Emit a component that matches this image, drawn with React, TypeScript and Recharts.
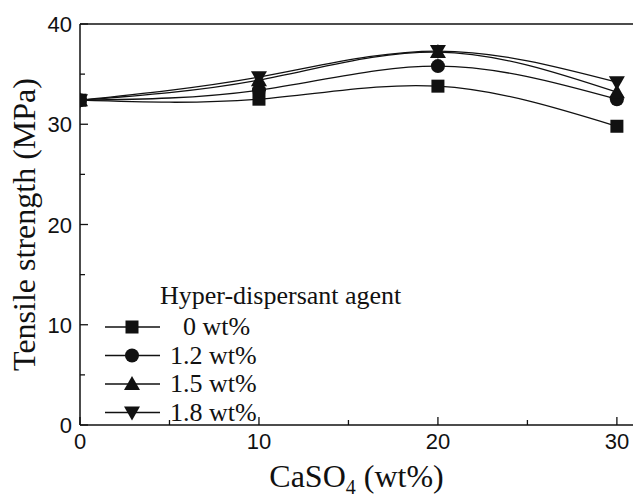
import React from "react";
import {
  LineChart,
  Line,
  XAxis,
  YAxis,
  ReferenceLine,
  Legend,
} from "recharts";

// CaSO4 loading (wt%)
const X_VALUES = [0, 10, 20, 30];
// tensile strength (MPa) per hyper-dispersant level
const S0 = [32.4, 32.5, 33.8, 29.8];
const S12 = [32.4, 33.4, 35.8, 32.5];
const S15 = [32.4, 34.4, 37.2, 33.2];
const S18 = [32.4, 34.7, 37.3, 34.2];

const SERIES = [
  { key: "s0", name: "0 wt%", values: S0, shape: "square" },
  { key: "s12", name: "1.2 wt%", values: S12, shape: "circle" },
  { key: "s15", name: "1.5 wt%", values: S15, shape: "up" },
  { key: "s18", name: "1.8 wt%", values: S18, shape: "down" },
];

const X_TICKS = [0, 5, 10, 15, 20, 25, 30];
const Y_TICKS = [0, 5, 10, 15, 20, 25, 30, 35, 40];

const data = X_VALUES.map((x, i) => {
  const row: any = { x };
  SERIES.forEach((s) => (row[s.key] = s.values[i]));
  return row;
});

const SERIF = "'Liberation Serif', 'Times New Roman', serif";
const SANS = "'Liberation Sans', Arial, sans-serif";

function Marker({ cx, cy, shape }: { cx: number; cy: number; shape: string }) {
  if (shape === "square")
    return <rect x={cx - 6.5} y={cy - 6.5} width={13} height={13} fill="#111" />;
  if (shape === "circle") return <circle cx={cx} cy={cy} r={7} fill="#111" />;
  if (shape === "up")
    return <polygon points={`${cx},${cy - 8} ${cx + 8},${cy + 6} ${cx - 8},${cy + 6}`} fill="#111" />;
  return <polygon points={`${cx},${cy + 8} ${cx + 8},${cy - 6} ${cx - 8},${cy - 6}`} fill="#111" />;
}

function XTick({ x, y, payload }: any) {
  const major = payload.value % 10 === 0;
  return (
    <g>
      <line x1={x} y1={y} x2={x} y2={y - (major ? 8 : 5)} stroke="#111" strokeWidth={1.3} />
      {major && (
        <text x={x} y={y + 24} textAnchor="middle" fontFamily={SANS} fontSize={22} fill="#111">
          {payload.value}
        </text>
      )}
    </g>
  );
}

function YTick({ x, y, payload }: any) {
  const major = payload.value % 10 === 0;
  return (
    <g>
      <line x1={x} y1={y} x2={x + (major ? 8 : 5)} y2={y} stroke="#111" strokeWidth={1.3} />
      {major && (
        <text x={x - 8} y={y + 8} textAnchor="end" fontFamily={SANS} fontSize={22} fill="#111">
          {payload.value}
        </text>
      )}
    </g>
  );
}

function LegendBox() {
  return (
    <svg width={360} height={150}>
      <text x={65} y={26} fontFamily={SERIF} fontSize={26} fill="#111">
        Hyper-dispersant agent
      </text>
      {SERIES.map((s, i) => {
        const y = 49 + i * 28.5;
        return (
          <g key={s.key}>
            <line x1={10} y1={y} x2={65} y2={y} stroke="#111" strokeWidth={1.3} />
            <Marker cx={37} cy={y} shape={s.shape} />
            <text
              x={i === 0 ? 88 : 75}
              y={y + 8}
              fontFamily={SERIF}
              fontSize={26}
              fill="#111"
            >
              {s.name}
            </text>
          </g>
        );
      })}
    </svg>
  );
}

export default function App() {
  return (
    <div style={{ position: "absolute", left: 0, top: 0, background: "#fff" }}>
      <LineChart
        width={633}
        height={500}
        data={data}
        margin={{ top: 24, right: 0, bottom: 0, left: 0 }}
      >
        <XAxis
          dataKey="x"
          type="number"
          domain={[0, 30.9]}
          ticks={X_TICKS}
          allowDataOverflow
          height={75}
          tickSize={0}
          tickMargin={0}
          tickLine={false}
          axisLine={{ stroke: "#111", strokeWidth: 1.5 }}
          tick={<XTick />}
          interval={0}
          label={{
            content: ({ viewBox }: any) => (
              <text
                x={viewBox.x + viewBox.width / 2}
                y={viewBox.y + 62}
                textAnchor="middle"
                fontFamily={SERIF}
                fontSize={32}
                fill="#111"
              >
                CaSO
                <tspan dy={7} fontSize={20}>4</tspan>
                <tspan dy={-7}> (wt%)</tspan>
              </text>
            ),
          }}
        />
        <YAxis
          type="number"
          domain={[0, 40]}
          ticks={Y_TICKS}
          width={80}
          tickSize={0}
          tickMargin={0}
          tickLine={false}
          axisLine={{ stroke: "#111", strokeWidth: 1.5 }}
          tick={<YTick />}
          interval={0}
          label={{
            content: ({ viewBox }: any) => {
              const cx = viewBox.x + 24;
              const cy = viewBox.y + viewBox.height / 2;
              return (
                <text
                  x={cx}
                  y={cy}
                  transform={`rotate(-90 ${cx} ${cy})`}
                  textAnchor="middle"
                  dominantBaseline="central"
                  fontFamily={SERIF}
                  fontSize={32}
                  fill="#111"
                >
                  Tensile strength (MPa)
                </text>
              );
            },
          }}
        />
        <ReferenceLine y={40} stroke="#111" strokeWidth={1.5} />
        {SERIES.map((s) => (
          <Line
            key={s.key}
            dataKey={s.key}
            name={s.name}
            type="natural"
            stroke="#111"
            strokeWidth={1.3}
            isAnimationActive={false}
            dot={(p: any) => <Marker key={`${s.key}-${p.index}`} cx={p.cx} cy={p.cy} shape={s.shape} />}
          />
        ))}
        <Legend
          layout="vertical"
          align="center"
          verticalAlign="middle"
          content={() => <LegendBox />}
          wrapperStyle={{ left: 95, top: 278, width: 360 }}
        />
      </LineChart>
    </div>
  );
}
